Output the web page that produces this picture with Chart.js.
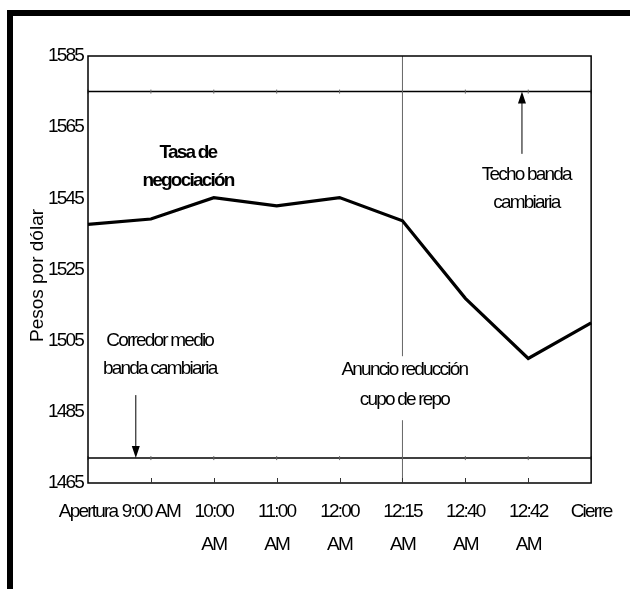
<!DOCTYPE html>
<html>
<head>
<meta charset="utf-8">
<script src="https://cdn.jsdelivr.net/npm/chart.js@4"></script>
<style>
  html, body { margin: 0; padding: 0; background: #fff; overflow: hidden; }
  .frame { position: absolute; left: 7px; top: 10px; width: 700px; height: 700px; border: 6px solid #000; }
  .wrap { position: absolute; left: 0; top: 0; width: 630px; height: 589px; }
</style>
</head>
<body>
<div class="frame"></div>
<div class="wrap"><canvas id="tasaChart" width="630" height="589"></canvas></div>
<script>
const categories = ['Apertura', '9:00 AM', '10:00 AM', '11:00 AM', '12:00 AM', '12:15 AM', '12:40 AM', '12:42 AM', 'Cierre'];
const tickLabels = ['Apertura', '9:00 AM', ['10:00', 'AM'], ['11:00', 'AM'], ['12:00', 'AM'], ['12:15', 'AM'], ['12:40', 'AM'], ['12:42', 'AM'], 'Cierre'];
const tasa = [1537.7, 1539.2, 1545.2, 1542.9, 1545.2, 1538.7, 1516.9, 1500.0, 1510.0];
const techo = [1575, 1575, 1575, 1575, 1575, 1575, 1575, 1575, 1575];
const corredor = [1472, 1472, 1472, 1472, 1472, 1472, 1472, 1472, 1472];
const anuncio = '12:15 AM';
const yTicks = [1465, 1485, 1505, 1525, 1545, 1565, 1585];
const yTitle = 'Pesos por dólar';

const FONT = '"Liberation Sans", Arial, sans-serif';
const TIGHT = '-1.8px';

// arrows and text notes, placed in data units
const notes = [
  { lines: ['Tasa de', 'negociación'], x: 1.59, y: 1557.7, bold: true },
  { lines: ['Techo banda', 'cambiaria'], x: 6.97, y: 1551.6 },
  { lines: ['Corredor medio', 'banda cambiaria'], x: 1.14, y: 1504.9 },
  { lines: ['Anuncio reducción', 'cupo de repo'], x: 5.03, y: 1496.7, box: true }
];
const arrows = [
  { x: 6.9, from: 1557.5, to: 1575 },
  { x: 0.76, from: 1489.7, to: 1472 }
];

const extras = {
  id: 'extras',
  beforeDraw(chart) {
    chart.ctx.letterSpacing = TIGHT;
  },
  afterDatasetsDraw(chart) {
    const { ctx, chartArea: a, scales: { x, y } } = chart;
    ctx.save();
    // plot box
    ctx.strokeStyle = '#000';
    ctx.lineWidth = 1.5;
    ctx.strokeRect(a.left, a.top, a.right - a.left, a.bottom - a.top);
    // inner tick marks on the category axis
    ctx.lineWidth = 1;
    ctx.strokeStyle = '#333';
    for (let i = 1; i < categories.length - 1; i++) {
      const px = Math.round(x.getPixelForValue(i)) + 0.5;
      ctx.beginPath();
      ctx.moveTo(px, a.bottom);
      ctx.lineTo(px, a.bottom - 5);
      ctx.stroke();
    }
    // arrows
    ctx.strokeStyle = '#000';
    ctx.fillStyle = '#000';
    arrows.forEach(ar => {
      const px = x.getPixelForValue(ar.x);
      const y0 = y.getPixelForValue(ar.from);
      const y1 = y.getPixelForValue(ar.to);
      const dir = y1 < y0 ? 1 : -1;
      ctx.lineWidth = 1;
      ctx.beginPath();
      ctx.moveTo(px, y0);
      ctx.lineTo(px, y1 + dir * 10);
      ctx.stroke();
      ctx.beginPath();
      ctx.moveTo(px, y1);
      ctx.lineTo(px - 4, y1 + dir * 12);
      ctx.lineTo(px + 4, y1 + dir * 12);
      ctx.closePath();
      ctx.fill();
    });
    // notes
    ctx.letterSpacing = TIGHT;
    ctx.textAlign = 'center';
    ctx.textBaseline = 'middle';
    notes.forEach(n => {
      const px = x.getPixelForValue(n.x);
      const py = y.getPixelForValue(n.y);
      const step = n.box ? 30 : 28;
      ctx.font = (n.bold ? 'bold ' : '') + '19px ' + FONT;
      if (n.box) {
        const w = Math.max(...n.lines.map(t => ctx.measureText(t).width)) + 6;
        ctx.fillStyle = '#fff';
        ctx.fillRect(px - w / 2, py - 14, w, step * n.lines.length + 4);
      }
      ctx.fillStyle = '#000';
      n.lines.forEach((t, i) => ctx.fillText(t, px, py + i * step));
    });
    // y axis title, normal spacing
    ctx.letterSpacing = '0px';
    ctx.font = '19px ' + FONT;
    ctx.translate(38, (a.top + a.bottom) / 2 + 6);
    ctx.rotate(-Math.PI / 2);
    ctx.fillText(yTitle, 0, 0);
    ctx.restore();
  }
};

new Chart(document.getElementById('tasaChart'), {
  type: 'line',
  data: {
    labels: categories,
    datasets: [
      {
        label: 'Anuncio',
        data: [{ x: anuncio, y: yTicks[0] }, { x: anuncio, y: yTicks[yTicks.length - 1] }],
        borderColor: '#666',
        borderWidth: 1,
        pointRadius: 0,
        order: 3
      },
      {
        label: 'Techo banda cambiaria',
        data: techo,
        borderColor: '#000',
        borderWidth: 1.5,
        pointStyle: 'line',
        pointRotation: 90,
        pointRadius: 2,
        pointBorderColor: '#666',
        pointBorderWidth: 1,
        order: 2
      },
      {
        label: 'Corredor medio banda cambiaria',
        data: corredor,
        borderColor: '#000',
        borderWidth: 1.5,
        pointStyle: 'line',
        pointRotation: 90,
        pointRadius: 2,
        pointBorderColor: '#666',
        pointBorderWidth: 1,
        order: 2
      },
      {
        label: 'Tasa de negociación',
        data: tasa,
        borderColor: '#000',
        borderWidth: 3.2,
        pointRadius: 0,
        tension: 0,
        order: 1
      }
    ]
  },
  options: {
    responsive: false,
    animation: false,
    layout: { padding: { left: 14, right: 38, top: 56, bottom: 20 } },
    plugins: { legend: { display: false }, tooltip: { enabled: false } },
    scales: {
      x: {
        type: 'category',
        offset: false,
        grid: { display: false, drawTicks: false },
        border: { display: false },
        afterFit: s => { s.height = 86; },
        ticks: {
          color: '#000',
          autoSkip: false,
          maxRotation: 0,
          padding: 13,
          font: { family: FONT, size: 19, lineHeight: 1.7 },
          callback: (v, i) => tickLabels[i]
        }
      },
      y: {
        min: yTicks[0],
        max: yTicks[yTicks.length - 1],
        afterBuildTicks: s => { s.ticks = yTicks.map(v => ({ value: v })); },
        afterFit: s => { s.width = 74; },
        grid: { display: false, drawTicks: false },
        border: { display: false },
        ticks: {
          color: '#000',
          padding: 5,
          font: { family: FONT, size: 19 },
          callback: v => String(v)
        }
      }
    }
  },
  plugins: [extras]
});
</script>
</body>
</html>
